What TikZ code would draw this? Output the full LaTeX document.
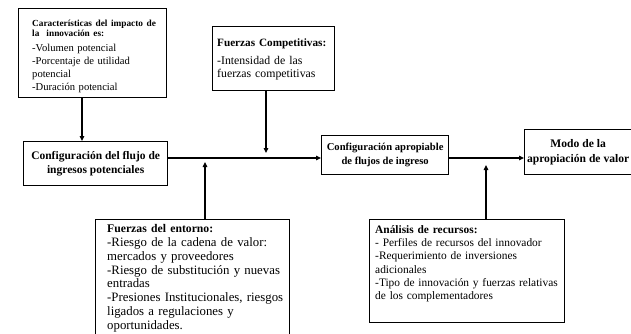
\documentclass[tikz,border=0pt]{standalone}
\usepackage{fontspec}
\setmainfont{Liberation Serif}
\usetikzlibrary{arrows.meta,calc}
\begin{document}
\begin{tikzpicture}[x=1pt,y=-1pt,
  frame/.style={draw,line width=1.2pt,inner sep=0pt,anchor=north west},
  txt/.style={inner sep=0pt,anchor=north west,align=left},
  mainbox/.style={draw,line width=1.3pt,inner sep=0pt,anchor=north west,align=center},
  arr/.style={line width=1.1pt,-{Triangle[length=5pt,width=4.5pt]}},
]
\useasboundingbox (0,0) rectangle (631,334);

% top-left box
\node[frame,minimum width=148pt,minimum height=89pt] (b1) at (18,8) {};
\node[txt,text width=140pt,font=\fontsize{10.6}{12.8}\selectfont] (t1) at (32,20)
 {{\bfseries\fontsize{9.3}{9.8}\selectfont Características del impacto de\\ la\ \ innovación es:\par}\vspace{2.5pt}
  -Volumen potencial\\ -Porcentaje de utilidad\\ potencial\\ -Duración potencial};

% competitive forces box
\node[frame,minimum width=122pt,minimum height=64pt] (b2) at (212,26) {};
\node[txt,text width=118pt,font=\fontsize{11.8}{13}\selectfont] (t2) at (217,39)
 {{\bfseries\fontsize{11.2}{13}\selectfont Fuerzas Competitivas:\par}\vspace{5pt}
  -Intensidad de las\\ fuerzas competitivas};

% main flow boxes
\node[mainbox,minimum width=144pt,minimum height=44pt,font=\bfseries\fontsize{11.5}{13.5}\selectfont] (b3) at (23,141)
 {Configuración del flujo de\\ ingresos potenciales};
\node[mainbox,minimum width=127pt,minimum height=39pt,font=\bfseries\fontsize{10.6}{14}\selectfont] (b4) at (321,135)
 {Configuración apropiable\\ de flujos de ingreso};
\node[mainbox,minimum width=107pt,minimum height=45pt,font=\bfseries\fontsize{11.6}{15}\selectfont] (b5) at (524,129)
 {Modo de la\\ apropiación de valor};

% environment forces box
\node[frame,minimum width=194pt,minimum height=130pt] (b6) at (95,219) {};
\node[txt,text width=185pt,font=\fontsize{12.8}{13.9}\selectfont] (t6) at (107,224)
 {{\bfseries\fontsize{11.7}{13.9}\selectfont Fuerzas del entorno:\par}
  -Riesgo de la cadena de valor:\\ mercados y proveedores\\
  -Riesgo de substitución y nuevas\\ entradas\\
  -Presiones Institucionales, riesgos\\ ligados a regulaciones y\\ oportunidades.};

% resources box
\node[frame,minimum width=195pt,minimum height=103pt] (b7) at (369,219) {};
\node[txt,text width=190pt,font=\fontsize{11.4}{13.3}\selectfont] (t7) at (375,225)
 {{\bfseries Análisis de recursos:\par}
  - Perfiles de recursos del innovador\\ -Requerimiento de inversiones\\ adicionales\\
  -Tipo de innovación y fuerzas relativas\\ de los complementadores};

% helper coordinates
\coordinate (x1) at (82,0);
\coordinate (ly) at (0,158);
\coordinate (e2) at (266,153);
\coordinate (e6) at (205,162);
\coordinate (e7) at (486,165);

% connectors
\draw[arr] (b1.south -| x1) -- (b3.north -| x1);
\draw[arr] (b3.east |- ly) -- (b4.west |- ly);
\draw[arr] (b4.east |- ly) -- (b5.west |- ly);
\draw[arr] (b2.south -| e2) -- (e2);
\draw[arr] (b6.north -| e6) -- (e6);
\draw[arr] (b7.north -| e7) -- (e7);
\end{tikzpicture}
\end{document}
